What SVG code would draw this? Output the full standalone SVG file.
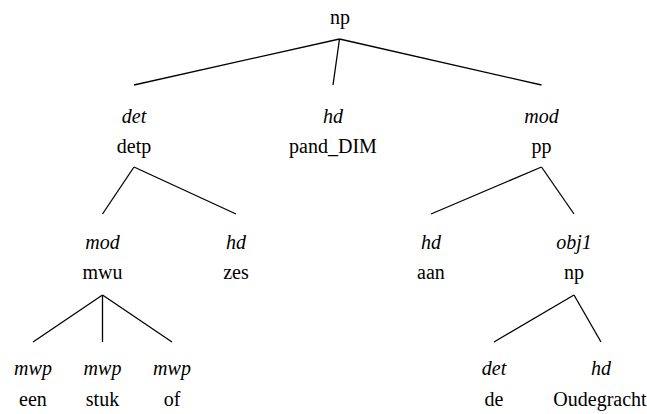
<svg xmlns="http://www.w3.org/2000/svg" width="647" height="414" viewBox="0 0 647 414">
<style>
.t text{font-size:20px;fill:#000;text-anchor:middle}
.t .r{font-style:italic}
.e line{stroke:#000;stroke-width:1.3}
</style>
<rect width="647" height="414" fill="#fff"/>
<g class="e" id="connectors">
<line x1="339.5" y1="39" x2="134" y2="85"/>
<line x1="339.5" y1="39" x2="333" y2="85"/>
<line x1="339.5" y1="39" x2="541.5" y2="85"/>
<line x1="134" y1="167" x2="102.5" y2="214"/>
<line x1="134" y1="167" x2="236" y2="214"/>
<line x1="541.5" y1="167" x2="431" y2="214"/>
<line x1="541.5" y1="167" x2="574" y2="214"/>
<line x1="102.5" y1="295" x2="33" y2="342"/>
<line x1="102.5" y1="295" x2="102.5" y2="342"/>
<line x1="102.5" y1="295" x2="172" y2="342"/>
<line x1="574" y1="295" x2="494" y2="342"/>
<line x1="574" y1="295" x2="601" y2="342"/>
</g>
<g class="t" font-family="'Liberation Serif', 'Times New Roman', serif">
<g id="n_root"><text x="340" y="24">np</text></g>
<g id="n_detp"><text class="r" x="134" y="123">det</text><text x="134" y="153">detp</text></g>
<g id="n_pand"><text class="r" x="333" y="123">hd</text><text x="333" y="153">pand_DIM</text></g>
<g id="n_pp"><text class="r" x="541.5" y="123">mod</text><text x="541.5" y="153">pp</text></g>
<g id="n_mwu"><text class="r" x="102.5" y="249">mod</text><text x="102.5" y="279">mwu</text></g>
<g id="n_zes"><text class="r" x="236" y="249">hd</text><text x="236" y="279">zes</text></g>
<g id="n_aan"><text class="r" x="431" y="249">hd</text><text x="431" y="279">aan</text></g>
<g id="n_np2"><text class="r" x="574" y="249">obj1</text><text x="574" y="279">np</text></g>
<g id="n_een"><text class="r" x="33" y="375">mwp</text><text x="33" y="406">een</text></g>
<g id="n_stuk"><text class="r" x="102.5" y="375">mwp</text><text x="102.5" y="406">stuk</text></g>
<g id="n_of"><text class="r" x="172" y="375">mwp</text><text x="172" y="406">of</text></g>
<g id="n_de"><text class="r" x="494" y="375">det</text><text x="494" y="406">de</text></g>
<g id="n_oude"><text class="r" x="601" y="375">hd</text><text x="600" y="406">Oudegracht</text></g>
</g>
</svg>
